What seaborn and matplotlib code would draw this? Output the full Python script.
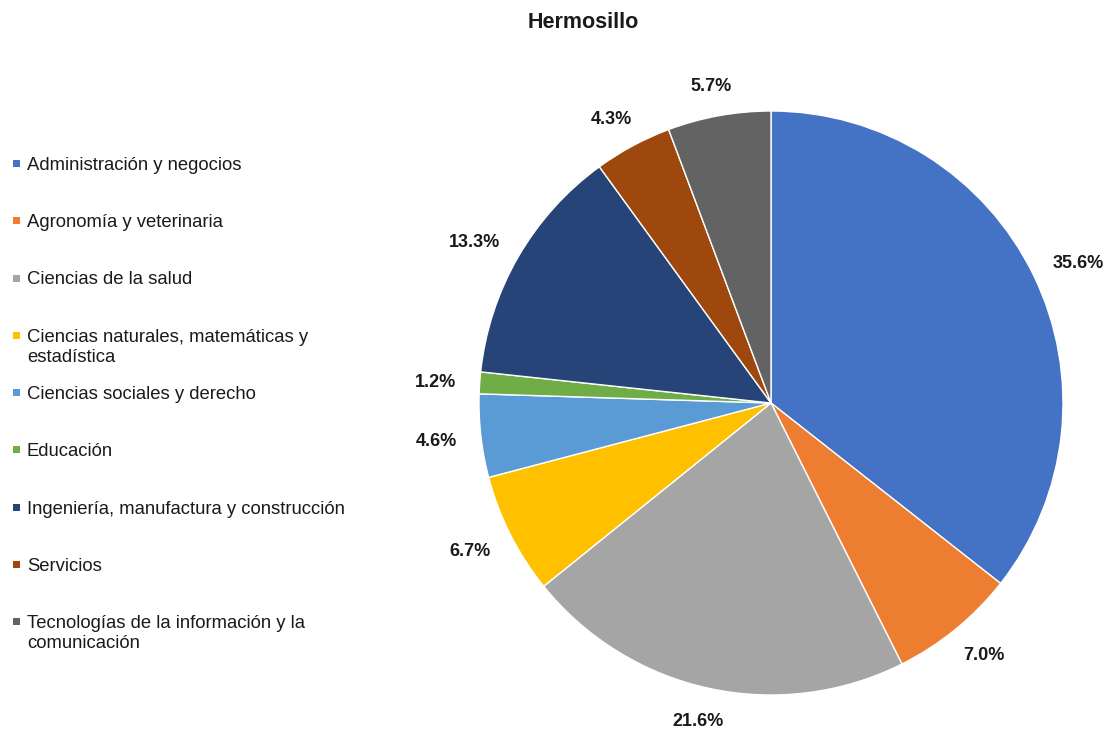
import matplotlib
matplotlib.use("Agg")
import matplotlib.pyplot as plt
import seaborn as sns
import numpy as np
from matplotlib.patches import Rectangle

# Data
categorias = [
    "Administración y negocios",
    "Agronomía y veterinaria",
    "Ciencias de la salud",
    "Ciencias naturales, matemáticas y\nestadística",
    "Ciencias sociales y derecho",
    "Educación",
    "Ingeniería, manufactura y construcción",
    "Servicios",
    "Tecnologías de la información y la\ncomunicación",
]
porcentajes = [35.6, 7.0, 21.6, 6.7, 4.6, 1.2, 13.3, 4.3, 5.7]
colores = ["#4472C4", "#ED7D31", "#A5A5A5", "#FFC000", "#5B9BD5",
           "#70AD47", "#264478", "#9E480E", "#636363"]

sns.set_theme(style="white")
plt.rcParams["font.family"] = ["Liberation Sans", "DejaVu Sans"]
palette = sns.color_palette(colores)

W, H = 1113, 729
fig = plt.figure(figsize=(W / 100, H / 100), dpi=100)

# pie area: center (771, 403), radius 292 px
cx, cy, r = 771, 403, 292
ax = fig.add_axes([(cx - r) / W, (H - cy - r) / H, 2 * r / W, 2 * r / H])

wedges, texts, autotexts = ax.pie(
    porcentajes,
    colors=palette,
    startangle=90,
    counterclock=False,
    autopct="%.1f%%",
    wedgeprops=dict(edgecolor="white", linewidth=1),
    textprops=dict(fontsize=13, fontweight="bold", color="#1a1a1a"),
)
ax.set_aspect("equal")
ax.set_xlim(-1, 1)
ax.set_ylim(-1, 1)
ax.axis("off")

# "outside end" labels, pushed out by half the text box along the bisector
d, b = 316 / r, 8 / r
for w, t in zip(wedges, autotexts):
    th = np.deg2rad((w.theta1 + w.theta2) / 2)
    a = 5.2 * len(t.get_text()) / r
    t.set_position((d * np.cos(th) + a * np.cos(th),
                    d * np.sin(th) + b * np.sin(th) - 2 / r))

fig.text(583 / W, 1 - 22 / H, "Hermosillo", ha="center", va="center",
         fontsize=15.5, fontweight="bold", color="#1a1a1a")

# legend on the left, one row every 57.25 px
for i, (lab, col) in enumerate(zip(categorias, palette)):
    y = 163 + 57.25 * i
    fig.add_artist(Rectangle((13 / W, 1 - (y + 4) / H), 7 / W, 7 / H,
                             transform=fig.transFigure, color=col, lw=0))
    fig.text(27 / W, 1 - (y - 6) / H, lab, ha="left", va="top",
             fontsize=13.3, color="#1a1a1a", linespacing=1.25)

fig.savefig("out.png", dpi=100)
